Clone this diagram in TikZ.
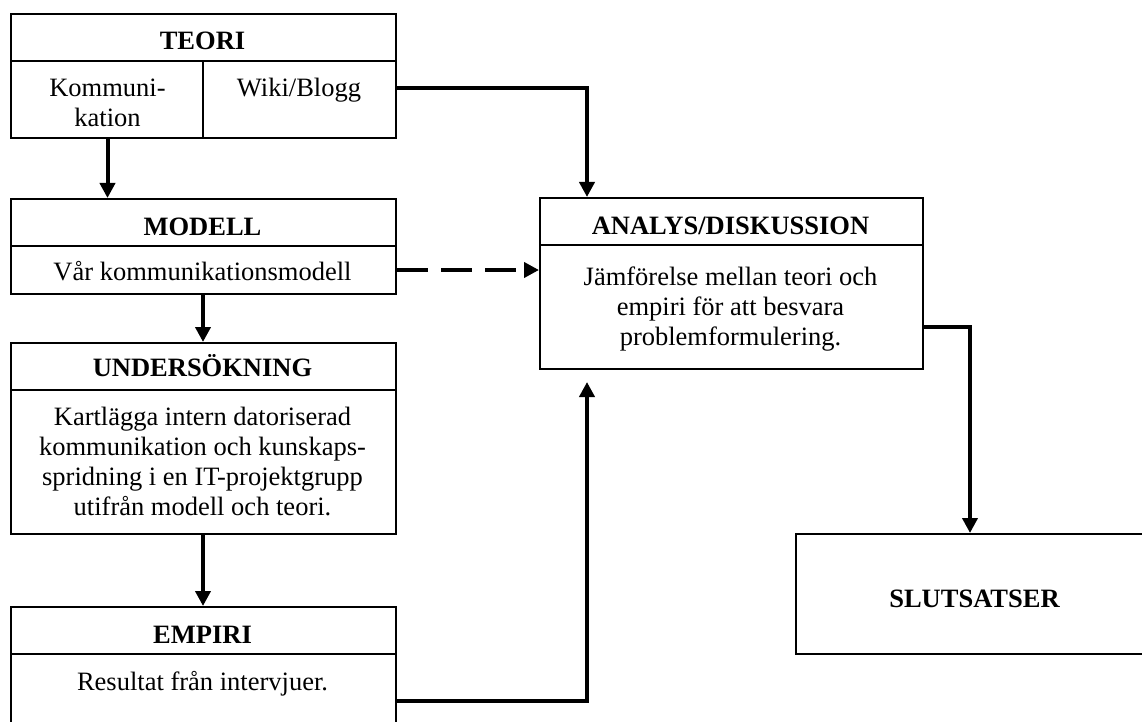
\documentclass[tikz,border=0pt]{standalone}
\usepackage{fontspec}
\setmainfont{Liberation Serif}
\usetikzlibrary{arrows.meta}
\begin{document}
\begin{tikzpicture}[x=1pt,y=-1pt,
  box/.style={draw, line width=2pt, anchor=north west, inner sep=0pt, minimum width=#1},
  txt/.style={inner sep=0pt, anchor=base, align=center, font=\fontsize{26.5}{30}\selectfont},
  ttl/.style={txt, font=\fontsize{26.5}{30}\selectfont\bfseries},
  sepline/.style={line width=2pt},
  arr/.style={line width=4pt, -{Triangle[length=15pt,width=15pt]}},
  dasharr/.style={arr, dash pattern=on 31pt off 13pt}
]
\path[use as bounding box, clip] (0,0) rectangle (1142,722);

% boxes
\node[box=385, minimum height=124] (teori) at (10,13) {};
\node[box=385, minimum height=95] (modell) at (10,198) {};
\node[box=385, minimum height=191] (unders) at (10,342) {};
\node[box=385, minimum height=125] (empiri) at (10,606) {};
\node[box=383, minimum height=171] (analys) at (539,197) {};
\node[box=360, minimum height=120, line width=2.4pt] (slut) at (795,533) {};

% separators
\draw[sepline] (teori.west |- 0,61) -- (teori.east |- 0,61);
\draw[sepline] (203,61) -- (teori.south -| 203,0);
\draw[sepline] (modell.west |- 0,246) -- (modell.east |- 0,246);
\draw[sepline] (unders.west |- 0,390) -- (unders.east |- 0,390);
\draw[sepline] (empiri.west |- 0,654) -- (empiri.east |- 0,654);
\draw[sepline] (analys.west |- 0,245) -- (analys.east |- 0,245);

% texts (base of a multi-line node = baseline of its last line)
\node[ttl] (teoriT) at (202.5,50) {TEORI};
\node[txt] (kom) at (107.5,127) {Kommuni-\\kation};
\node[txt] (wiki) at (299,97) {Wiki/Blogg};
\node[ttl] (modellT) at (202.5,235) {MODELL};
\node[txt] (modellS) at (202.5,280) {Vår kommunikationsmodell};
\node[ttl] (undersT) at (202.5,376) {UNDERSÖKNING};
\node[txt] (undersS) at (202.5,515) {Kartlägga intern datoriserad\\kommunikation och kunskaps-\\spridning i en IT-projektgrupp\\utifrån modell och teori.};
\node[ttl] (empiriT) at (202.5,643) {EMPIRI};
\node[txt] (empiriS) at (202.5,690) {Resultat från intervjuer.};
\node[ttl] (analysT) at (730.5,234) {ANALYS/DISKUSSION};
\node[txt] (analysS) at (730.5,345) {Jämförelse mellan teori och\\empiri för att besvara\\problemformulering.};
\node[ttl] (slutT) at (974.5,607) {SLUTSATSER};

% connectors
\coordinate (j1) at (587,88);
\coordinate (j2) at (587,701);
\coordinate (j3) at (970,327);
\coordinate (d1) at (0,270);
\draw[arr] (teori.south -| kom) -- (modell.north -| kom);
\draw[arr] (teori.east |- j1) -- (j1) -- (analys.north -| j1);
\draw[dasharr] (modell.east |- d1) -- (analys.west |- d1);
\draw[arr] (modell.south -| 203,0) -- (unders.north -| 203,0);
\draw[arr] (unders.south -| 203,0) -- (empiri.north -| 203,0);
\draw[arr, shorten >=12pt] (empiri.east |- j2) -- (j2) -- (analys.south -| j2);
\draw[arr] (analys.east |- j3) -- (j3) -- (slut.north -| j3);
\end{tikzpicture}
\end{document}
